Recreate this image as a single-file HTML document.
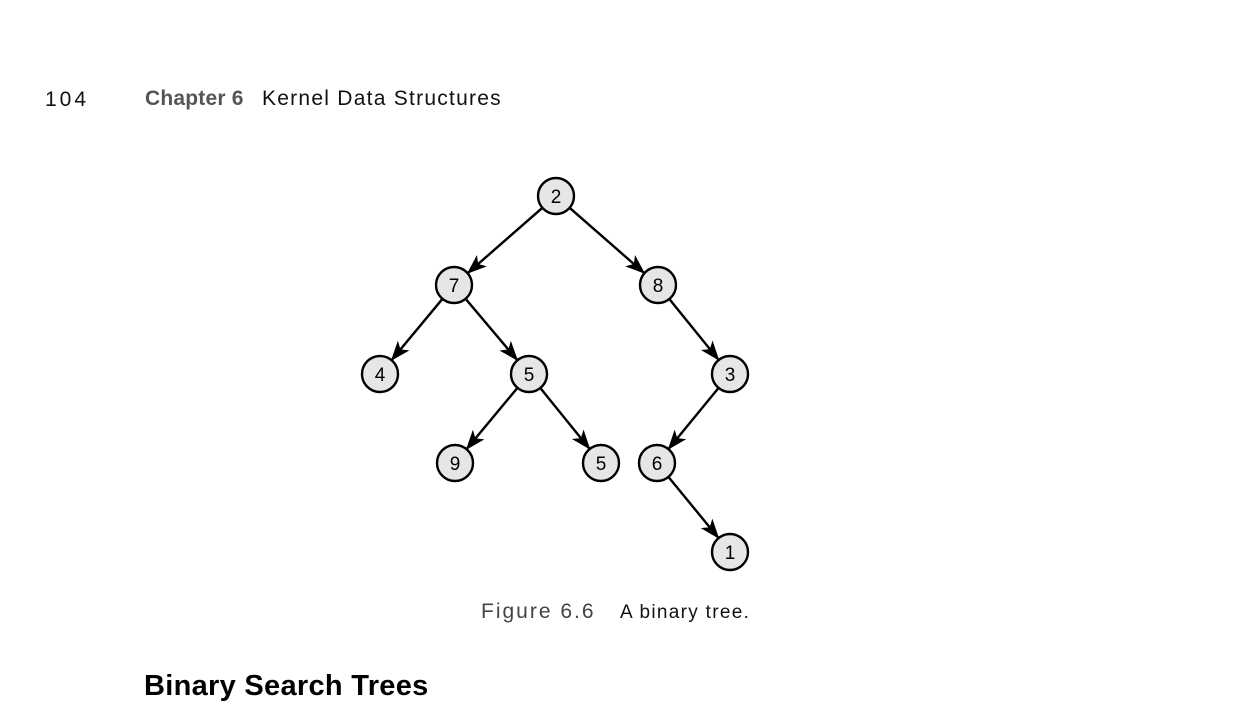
<!DOCTYPE html>
<html><head><meta charset="utf-8"><style>
html,body{margin:0;padding:0;background:#fff;}
body{width:1242px;height:714px;position:relative;overflow:hidden;font-family:"Liberation Sans",sans-serif;}
.t{position:absolute;white-space:nowrap;}
</style></head><body>
<div class="t" style="left:45px;top:88px;font-size:21px;color:#111;letter-spacing:3px;">104</div>
<div class="t" style="left:145px;top:87px;font-size:21px;color:#555;font-weight:bold;letter-spacing:0.2px;">Chapter 6</div>
<div class="t" style="left:262px;top:87px;font-size:21px;color:#111;letter-spacing:1.25px;">Kernel Data Structures</div>
<svg width="1242" height="714" style="position:absolute;left:0;top:0" xmlns="http://www.w3.org/2000/svg">
<defs><marker id="a" markerUnits="userSpaceOnUse" markerWidth="20" markerHeight="16" refX="19" refY="8" orient="auto"><path d="M0,0.5 L20,8 L0,15.5 L5,8 z" fill="#000"/></marker></defs>
<g stroke="#000" stroke-width="2.4" marker-end="url(#a)">
<line x1="542.4" y1="207.8" x2="467.6" y2="273.2"/>
<line x1="569.6" y1="207.8" x2="644.4" y2="273.2"/>
<line x1="442.5" y1="298.8" x2="391.5" y2="360.2"/>
<line x1="465.6" y1="298.8" x2="517.4" y2="360.2"/>
<line x1="669.3" y1="299" x2="718.7" y2="360"/>
<line x1="517.5" y1="387.8" x2="466.5" y2="449.2"/>
<line x1="540.3" y1="388" x2="589.7" y2="449"/>
<line x1="718.6" y1="387.9" x2="668.4" y2="449.1"/>
<line x1="668.4" y1="476.9" x2="718.6" y2="538.1"/>
</g>
<g fill="#e6e6e6" stroke="#000" stroke-width="2.4">
<circle cx="556" cy="196" r="18"/><circle cx="454" cy="285" r="18"/><circle cx="658" cy="285" r="18"/>
<circle cx="380" cy="374" r="18"/><circle cx="529" cy="374" r="18"/><circle cx="730" cy="374" r="18"/>
<circle cx="455" cy="463" r="18"/><circle cx="601" cy="463" r="18"/><circle cx="657" cy="463" r="18"/>
<circle cx="730" cy="552" r="18"/>
</g>
<g font-family="Liberation Sans,sans-serif" font-size="19" text-anchor="middle" fill="#000">
<text x="556" y="203">2</text><text x="454" y="292">7</text><text x="658" y="292">8</text>
<text x="380" y="381">4</text><text x="529" y="381">5</text><text x="730" y="381">3</text>
<text x="455" y="470">9</text><text x="601" y="470">5</text><text x="657" y="470">6</text>
<text x="730" y="559">1</text>
</g>
</svg>
<div class="t" style="left:481px;top:600px;font-size:21px;color:#444;letter-spacing:2px;">Figure 6.6</div>
<div class="t" style="left:620px;top:602px;font-size:19px;color:#111;letter-spacing:1.3px;">A binary tree.</div>
<div class="t" style="left:144px;top:670px;font-size:29px;font-weight:bold;color:#000;letter-spacing:0.3px;">Binary Search Trees</div>
</body></html>
